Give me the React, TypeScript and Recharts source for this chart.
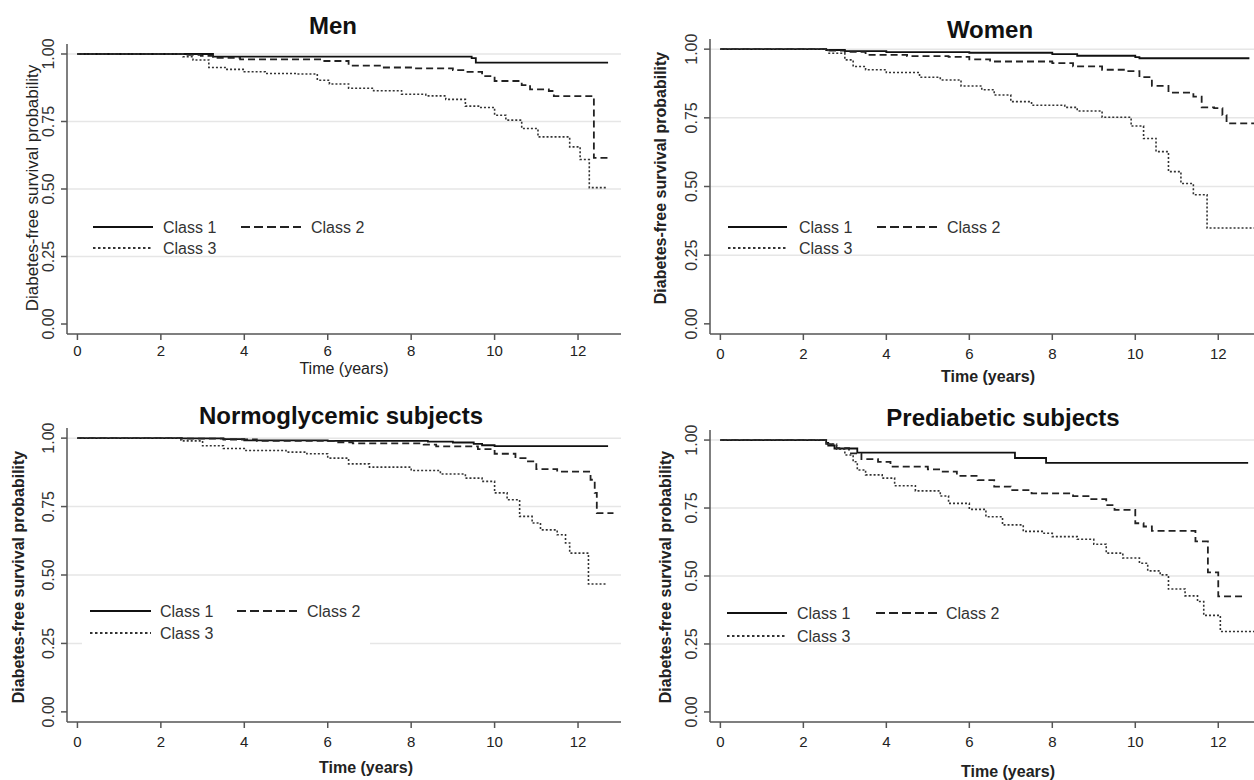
import React from "react";
import { Line, LineChart, ReferenceLine, XAxis, YAxis } from "recharts";

const timeTicks = [0, 2, 4, 6, 8, 10, 12];
const probTicks = [0, 0.25, 0.5, 0.75, 1];
const gridValues = [0.25, 0.5, 0.75, 1];
const classNames = ["Class 1", "Class 2", "Class 3"];
const panelTitles = ["Men", "Women", "Normoglycemic subjects", "Prediabetic subjects"];
const yLabel = "Diabetes-free survival probability";
const xLabel = "Time (years)";

// Men
const menT1 = [0, 3.25, 9.45, 9.55, 12.72];
const menS1 = [1, 0.99, 0.985, 0.968, 0.968];
const menT2 = [0, 2.6, 2.96, 3.25, 3.9, 5.85, 6.5, 7.3, 8.06, 9.0, 9.3, 9.7, 10.0, 10.65, 10.85, 11.3, 11.42, 12.38, 12.77];
const menS2 = [1, 0.997, 0.993, 0.986, 0.98, 0.974, 0.957, 0.95, 0.947, 0.94, 0.934, 0.918, 0.9, 0.885, 0.869, 0.863, 0.844, 0.615, 0.615];
const menT3 = [0, 2.53, 2.77, 3.15, 3.54, 4.0, 4.5, 5.27, 5.75, 6.04, 6.5, 7.1, 7.77, 8.35, 8.83, 9.3, 9.64, 10.0, 10.27, 10.65, 11.04, 11.8, 12.05, 12.27, 12.67];
const menS3 = [1, 0.99, 0.978, 0.95, 0.943, 0.934, 0.928, 0.926, 0.903, 0.889, 0.873, 0.864, 0.851, 0.845, 0.832, 0.807, 0.802, 0.773, 0.755, 0.724, 0.693, 0.656, 0.609, 0.505, 0.505];

// Women
const womT1 = [0, 2.55, 3.0, 4.0, 6.0, 8.0, 8.6, 10.0, 10.1, 12.75];
const womS1 = [1, 0.997, 0.993, 0.989, 0.987, 0.982, 0.976, 0.971, 0.967, 0.967];
const womT2 = [0, 2.55, 3.0, 3.5, 4.5, 5.5, 6.0, 6.5, 8.0, 8.5, 9.2, 9.8, 10.1, 10.4, 10.8, 11.4, 11.6, 11.9, 12.1, 12.2, 12.9];
const womS2 = [1, 0.995, 0.99, 0.979, 0.975, 0.972, 0.963, 0.955, 0.949, 0.937, 0.925, 0.92, 0.898, 0.866, 0.842, 0.827, 0.788, 0.785, 0.76, 0.73, 0.73];
const womT3 = [0, 2.6, 3.0, 3.2, 3.5, 4.0, 4.8, 5.3, 5.8, 6.3, 6.6, 7.0, 7.5, 8.3, 8.6, 9.2, 9.9, 10.2, 10.5, 10.8, 11.1, 11.4, 11.73, 12.9];
const womS3 = [1, 0.985, 0.961, 0.937, 0.925, 0.915, 0.898, 0.888, 0.866, 0.852, 0.833, 0.809, 0.796, 0.788, 0.775, 0.752, 0.72, 0.675, 0.627, 0.554, 0.511, 0.47, 0.349, 0.349];

// Normoglycemic
const norT1 = [0, 2.5, 3.5, 4.0, 6.0, 8.4, 9.0, 9.5, 9.7, 10.0, 12.72];
const norS1 = [1, 0.999, 0.996, 0.992, 0.99, 0.987, 0.984, 0.979, 0.974, 0.971, 0.971];
const norT2 = [0, 2.5, 3.5, 4.3, 6.2, 6.6, 8.3, 8.6, 9.6, 10.0, 10.5, 10.8, 11.0, 11.5, 12.3, 12.4, 12.45, 12.85];
const norS2 = [1, 0.998, 0.995, 0.99, 0.985, 0.981, 0.976, 0.97, 0.96, 0.943, 0.927, 0.915, 0.887, 0.878, 0.848, 0.8, 0.726, 0.726];
const norT3 = [0, 2.48, 3.0, 3.5, 4.0, 5.0, 5.5, 6.0, 6.5, 7.0, 8.0, 8.7, 9.3, 9.7, 10.0, 10.3, 10.6, 10.9, 11.1, 11.5, 11.7, 11.8, 12.25, 12.67];
const norS3 = [1, 0.99, 0.972, 0.962, 0.955, 0.949, 0.943, 0.927, 0.906, 0.894, 0.882, 0.869, 0.854, 0.842, 0.8, 0.775, 0.714, 0.69, 0.665, 0.647, 0.617, 0.58, 0.467, 0.467];

// Prediabetic
const preT1 = [0, 2.55, 2.6, 2.75, 3.3, 7.1, 7.85, 12.72];
const preS1 = [1, 0.99, 0.98, 0.969, 0.954, 0.934, 0.916, 0.916];
const preT2 = [0, 2.55, 2.8, 3.1, 3.4, 3.8, 4.1, 5.0, 5.3, 5.7, 6.2, 6.6, 7.0, 7.5, 8.5, 8.9, 9.3, 9.5, 10.0, 10.2, 10.4, 11.45, 11.75, 12.0, 12.65];
const preS2 = [1, 0.985, 0.97, 0.951, 0.93, 0.92, 0.902, 0.892, 0.884, 0.868, 0.853, 0.829, 0.816, 0.804, 0.794, 0.783, 0.761, 0.743, 0.694, 0.682, 0.666, 0.627, 0.513, 0.425, 0.425];
const preT3 = [0, 2.55, 2.8, 3.0, 3.2, 3.3, 3.5, 3.9, 4.2, 4.7, 5.3, 5.5, 6.0, 6.4, 6.8, 7.3, 7.8, 8.0, 8.6, 9.0, 9.3, 9.7, 10.1, 10.3, 10.6, 10.8, 11.2, 11.5, 11.65, 12.05, 12.9];
const preS3 = [1, 0.985, 0.966, 0.945, 0.92, 0.89, 0.872, 0.86, 0.832, 0.813, 0.794, 0.767, 0.745, 0.718, 0.688, 0.664, 0.657, 0.645, 0.635, 0.617, 0.584, 0.566, 0.547, 0.519, 0.504, 0.452, 0.427, 0.406, 0.355, 0.296, 0.296];

const pts = (t: number[], s: number[]) => t.map((x, i) => ({ t: x, s: s[i] }));

const FONT = '"Liberation Sans", Arial, sans-serif';

const lineStyles = [
  { stroke: "#111", dash: undefined, width: 1.8 },
  { stroke: "#222", dash: "7 4", width: 1.8 },
  { stroke: "#333", dash: "2 2", width: 1.6 },
];

// plot areas in page pixels
const panels = [
  {
    rect: { left: 67, top: 44, width: 554, height: 290 },
    series: [pts(menT1, menS1), pts(menT2, menS2), pts(menT3, menS3)],
    tickGap: 5,
    title: { x: 333, y: 25 },
    yTitle: { x: 32, y: 188, bold: false, size: 17 },
    xTitle: { x: 344, y: 368, bold: false },
    legend: { a: 93, b: 153, ta: 163, c: 241, d: 301, tc: 311, r1: 227, r2: 248 },
  },
  {
    rect: { left: 710, top: 39, width: 551, height: 295 },
    series: [pts(womT1, womS1), pts(womT2, womS2), pts(womT3, womS3)],
    tickGap: 8,
    title: { x: 990, y: 29 },
    yTitle: { x: 660, y: 178, bold: true, size: 16 },
    xTitle: { x: 988, y: 376, bold: true },
    legend: { a: 728, b: 787, ta: 799, c: 877, d: 937, tc: 947, r1: 227, r2: 248 },
  },
  {
    rect: { left: 67, top: 428, width: 554, height: 294 },
    series: [pts(norT1, norS1), pts(norT2, norS2), pts(norT3, norS3)],
    tickGap: 8,
    title: { x: 341, y: 415 },
    yTitle: { x: 18, y: 577, bold: true, size: 16 },
    xTitle: { x: 366, y: 767, bold: true },
    legend: { a: 90, b: 151, ta: 160, c: 237, d: 297, tc: 307, r1: 611, r2: 633 },
    box: { x: 82, y: 596, w: 288, h: 54 },
  },
  {
    rect: { left: 710, top: 430, width: 551, height: 292 },
    series: [pts(preT1, preS1), pts(preT2, preS2), pts(preT3, preS3)],
    tickGap: 8,
    title: { x: 1003, y: 417 },
    yTitle: { x: 665, y: 577, bold: true, size: 16 },
    xTitle: { x: 1008, y: 771, bold: true },
    legend: { a: 727, b: 787, ta: 797, c: 876, d: 937, tc: 946, r1: 613, r2: 636 },
  },
];

function YTick(props: any) {
  const { x, y, payload } = props;
  const ax = x - 7;
  return (
    <text
      x={ax}
      y={y}
      transform={`rotate(-90 ${ax} ${y})`}
      textAnchor="middle"
      fontSize={16}
      fill="#333"
      fontFamily={FONT}
    >
      {Number(payload.value).toFixed(2)}
    </text>
  );
}

function Panel({ rect, series, tickGap }: { rect: any; series: { t: number; s: number }[][]; tickGap: number }) {
  return (
    <div style={{ position: "absolute", left: rect.left - 60, top: rect.top - 10 }}>
      <LineChart
        width={rect.width + 70}
        height={rect.height + 60}
        margin={{ top: 10, right: 10, bottom: 0, left: 0 }}
      >
        <XAxis
          type="number"
          dataKey="t"
          domain={[-0.25, 13.03]}
          ticks={timeTicks}
          allowDataOverflow
          height={50}
          tickSize={6}
          tickMargin={tickGap}
          axisLine={{ stroke: "#555", strokeWidth: 1.5 }}
          tickLine={{ stroke: "#555", strokeWidth: 1.5 }}
          tick={{ fontSize: 15, fill: "#222", fontFamily: FONT }}
        />
        <YAxis
          type="number"
          dataKey="s"
          domain={[-0.037, 1.037]}
          ticks={probTicks}
          allowDataOverflow
          width={60}
          tickSize={6}
          tickMargin={0}
          axisLine={{ stroke: "#555", strokeWidth: 1.5 }}
          tickLine={{ stroke: "#555", strokeWidth: 1.5 }}
          tick={<YTick />}
        />
        {gridValues.map((v) => (
          <ReferenceLine key={v} y={v} stroke="#e6e6e6" strokeWidth={1.5} />
        ))}
        {series.map((d, i) => (
          <Line
            key={i}
            data={d}
            dataKey="s"
            type="stepAfter"
            dot={false}
            activeDot={false}
            isAnimationActive={false}
            stroke={lineStyles[i].stroke}
            strokeWidth={lineStyles[i].width}
            strokeDasharray={lineStyles[i].dash}
          />
        ))}
      </LineChart>
    </div>
  );
}

export default function App() {
  return (
    <div
      style={{
        position: "absolute",
        left: 0,
        top: 0,
        width: 1254,
        height: 780,
        overflow: "hidden",
        background: "#fff",
        fontFamily: FONT,
      }}
    >
      {panels.map((p, i) => (
        <Panel key={i} rect={p.rect} series={p.series} tickGap={p.tickGap} />
      ))}
      <svg
        width={1254}
        height={780}
        style={{ position: "absolute", left: 0, top: 0, pointerEvents: "none" }}
        fontFamily={FONT}
      >
        {panels.map((p, i) => {
          const L = p.legend;
          return (
            <g key={i}>
              {p.box && <rect x={p.box.x} y={p.box.y} width={p.box.w} height={p.box.h} fill="#fff" />}
              <text x={p.title.x} y={p.title.y} textAnchor="middle" dominantBaseline="central" fontSize={24} fontWeight="bold" fill="#111">
                {panelTitles[i]}
              </text>
              <text
                x={p.yTitle.x}
                y={p.yTitle.y}
                transform={`rotate(-90 ${p.yTitle.x} ${p.yTitle.y})`}
                textAnchor="middle"
                dominantBaseline="central"
                fontSize={p.yTitle.size}
                fontWeight={p.yTitle.bold ? "bold" : "normal"}
                fill="#222"
              >
                {yLabel}
              </text>
              <text x={p.xTitle.x} y={p.xTitle.y} textAnchor="middle" dominantBaseline="central" fontSize={16} fontWeight={p.xTitle.bold ? "bold" : "normal"} fill="#222">
                {xLabel}
              </text>
              <line x1={L.a} x2={L.b} y1={L.r1} y2={L.r1} stroke={lineStyles[0].stroke} strokeWidth={2} />
              <text x={L.ta} y={L.r1} dominantBaseline="central" fontSize={16} fill="#333">{classNames[0]}</text>
              <line x1={L.c} x2={L.d} y1={L.r1} y2={L.r1} stroke={lineStyles[1].stroke} strokeWidth={2} strokeDasharray="9 4" />
              <text x={L.tc} y={L.r1} dominantBaseline="central" fontSize={16} fill="#333">{classNames[1]}</text>
              <line x1={L.a} x2={L.b} y1={L.r2} y2={L.r2} stroke={lineStyles[2].stroke} strokeWidth={2} strokeDasharray="2.5 2.5" />
              <text x={L.ta} y={L.r2} dominantBaseline="central" fontSize={16} fill="#333">{classNames[2]}</text>
            </g>
          );
        })}
      </svg>
    </div>
  );
}
